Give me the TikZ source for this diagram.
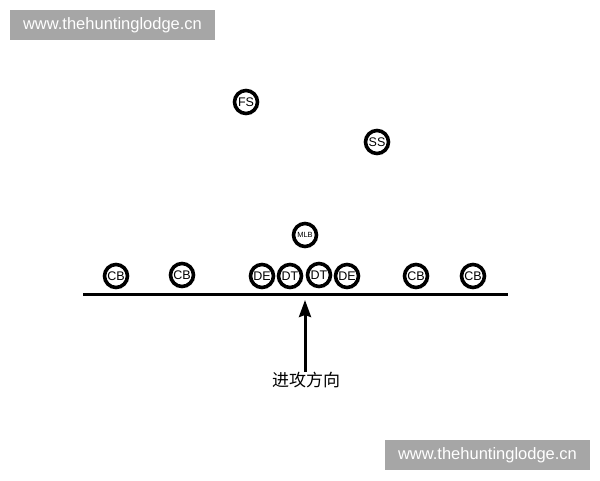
\documentclass[tikz,border=0pt]{standalone}
\usepackage{fontspec}
\setmainfont{Liberation Sans}
\newfontfamily\cjk{Noto Sans CJK SC}
\usetikzlibrary{arrows.meta}

\begin{document}
\begin{tikzpicture}[x=1pt, y=-1pt,
player/.style = {shape=circle, draw, line width=3.6pt, fill=white,
	minimum size=23pt, inner sep=0pt, font=\fontsize{12.5}{12.5}\selectfont},
watermark/.style = {fill=black!35, text=white, minimum width=205pt, minimum height=30pt,
	inner sep=0pt, font=\fontsize{16.5}{16.5}\selectfont}]
\useasboundingbox (0,0) rectangle (600,480);
% watermarks
\node[watermark] (mark1) at (112.5,25) {www.thehuntinglodge.cn};
\node[watermark] (mark2) at (487.5,455) {www.thehuntinglodge.cn};
% safeties and linebacker
\node[player] (fs) at (246,102) {FS};
\node[player] (ss) at (377,142) {SS};
\node[player, font=\fontsize{7.5}{7.5}\selectfont] (mlb) at (305,235) {MLB};
% front row
\node[player] (cb1) at (116,276) {CB};
\node[player] (cb2) at (182,275) {CB};
\node[player] (de1) at (262,276) {DE};
\node[player] (dt1) at (290,276) {DT};
\node[player] (dt2) at (319,275) {DT};
\node[player] (de2) at (347,276) {DE};
\node[player] (cb3) at (416,276) {CB};
\node[player] (cb4) at (473,276) {CB};
% line of scrimmage
\coordinate (lineL) at (83,294);
\coordinate (lineR) at (508,294);
\draw[line width=3pt] (lineL) -- (lineR);
% direction of attack
\node[font=\cjk\fontsize{17}{17}\selectfont] (dir) at (306,380) {进攻方向};
\coordinate (tip) at (305,300);
\draw[line width=3pt, -{Stealth[length=17pt, width=12pt, inset=2pt]}] ([xshift=-1pt, yshift=-3pt]dir.north) -- (tip);
\end{tikzpicture}
\end{document}
